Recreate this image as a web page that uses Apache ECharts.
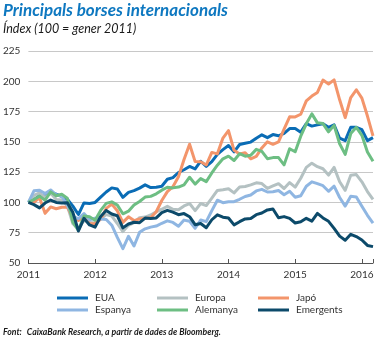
<!DOCTYPE html>
<html>
<head>
<meta charset="utf-8">
<script src="https://cdn.jsdelivr.net/npm/echarts@6/dist/echarts.min.js"></script>
<style>
  html, body { margin: 0; padding: 0; background: #ffffff; }
  #chart { width: 384px; height: 338px; }
</style>
</head>
<body>
<div id="chart"></div>
<script>
// Monthly index levels (100 = January 2011), first point = start of January 2011
const firstYear = 2011;
const seriesNames = ['EUA', 'Europa', 'Japó', 'Espanya', 'Alemanya', 'Emergents'];
const yearTicks = [2011, 2012, 2013, 2014, 2015, 2016];

const eua = [100,102.3,105.5,105.4,108.4,106.9,105,102.7,96.9,90,99.6,99.1,100,
  104.3,108.6,112,111.1,104.2,108.3,109.7,111.8,114.5,112.3,112.6,113.4,
  119.1,120.5,124.7,127,129.7,127.7,134,129.8,133.7,139.7,143.6,147,
  141.8,147.8,148.8,149.8,153,155.8,153.5,156,155,157,161,161,
  158,165,163,164,165,162,164,153,151,162,162,160,
  151,153.5];

const europa = [100,105.8,107.9,104.2,107.8,102.5,102,97.4,82.4,78.1,85.4,83.4,83,
  86.5,89.9,88.7,82.6,75.9,81.1,83.3,87.4,87.9,89.6,92.2,94.4,
  96.8,94.3,94,97.1,99.1,93.2,99.1,97.4,103.6,109.9,110.5,111.3,
  107.9,112.8,113.2,114.5,116.2,115.6,111.6,113.6,115.5,111.5,116.4,112.6,
  120,128.9,132.4,129.5,127.8,122.6,128.9,117.1,110,122.4,123,117,
  109,102.5];

const japo = [100,100.1,103.9,91,96.3,94.8,96,96.1,87.5,85.1,87.9,82.5,82.7,
  86.1,95.1,98.6,93.1,83.5,88.1,85,86.4,86.7,87.3,92.3,101.6,
  108.9,113,121.2,135.5,148,133.7,133.6,130.9,141.3,140.1,153.1,159.3,
  143,140,141,136,138,145,150,148,150,160.5,170.7,170.6,
  172.8,183.8,187.8,190.8,201,197.8,201.2,184.7,170,186.6,193,186.1,
  171.3,155];

const espanya = [100,109.6,110.1,107.3,110.3,106.3,105.1,97.7,88.4,86.7,90.8,85.7,86.9,
  86.3,85.9,81.2,71.1,61.8,72,64,75.3,78.2,79.6,80.5,82.8,
  84.8,83.5,80.3,85.4,84.4,78.7,85.5,84.1,93.2,101.8,99.8,100.6,
  100.6,102.6,104.9,106.1,109.5,110.8,108.6,108.8,109.8,106.3,109.2,104.3,
  105.5,113.4,117,115.5,113.8,109.2,113.4,104.1,97,105.1,104.5,96.8,
  89.4,83];

const alemanya = [100,102.4,105.2,101.8,108.7,105.5,106.7,103.5,83.7,77,88.8,88.1,85.3,
  93.4,99.2,100.5,97.8,90.6,92.8,97.9,100.8,104.4,105,107.1,110.1,
  112.5,112,112.7,114.5,120.8,115.1,119.7,117.2,124.3,130.7,136,138.2,
  134.6,140.2,138.2,138.9,143.8,142.2,136.1,137,137,131,144.3,141.8,
  154.7,164.9,173.1,165.7,165.1,158.3,163.6,148.4,139.7,156.9,162,155.4,
  141.7,134];

const emergents = [100,98.2,95.5,99.5,102,100,99.5,99.7,91.8,76.4,86.9,81.4,79.6,
  88.4,93.4,90.4,89,79,82.2,83.6,83.3,87.1,86.8,87.2,91.6,
  93.5,92,89.9,90.8,88.2,81.6,82.6,79.1,85.7,89.8,87.8,87.1,
  81.5,84.1,86.4,86.7,89.9,91.3,93.8,94.6,87.3,88.3,86.8,83,
  84,86.9,84.6,90.9,87.2,84.4,78.6,72.2,68.8,73.7,71.8,69,
  64.5,63.5];

const colors = ['#0a6cb5', '#b4c1c2', '#f3956b', '#8fb6e2', '#6dbe83', '#0c4a6a'];
const values = [eua, europa, japo, espanya, alemanya, emergents];

// month index -> decimal year
const toPairs = arr => arr.map((v, i) => [firstYear + i / 12, v]);
const lastX = firstYear + (eua.length - 1) / 12;

const FONT = 'Lato';

const legendSlots = [
  { left: 57, top: 292 }, { left: 157, top: 292 }, { left: 258, top: 292 },
  { left: 57, top: 304 }, { left: 157, top: 304 }, { left: 258, top: 304 }
];

const chart = echarts.init(document.getElementById('chart'), null, { renderer: 'canvas' });
chart.setOption({
  animation: false,
  backgroundColor: '#ffffff',
  color: colors,
  title: [
    {
      text: 'Principals borses internacionals',
      left: 3, top: 1, padding: 0,
      textStyle: { fontFamily: FONT, fontSize: 17, fontWeight: 'bold', fontStyle: 'italic', color: '#0e78c0', lineHeight: 20 }
    },
    {
      text: 'Índex (100 = gener 2011)',
      left: 3, top: 21, padding: 0,
      textStyle: { fontFamily: FONT, fontSize: 12.5, fontWeight: 'normal', fontStyle: 'italic', color: '#1a1a1a', lineHeight: 16 }
    },
    {
      text: '{b|Font:} {i|CaixaBank Research, a partir de dades de Bloomberg.}',
      left: 3, top: 323, padding: 0,
      textStyle: {
        rich: {
          b: { fontFamily: FONT, fontSize: 8.7, fontWeight: 'bold', fontStyle: 'italic', color: '#1a1a1a', lineHeight: 12 },
          i: { fontFamily: FONT, fontSize: 8.7, fontStyle: 'italic', color: '#1a1a1a', lineHeight: 12 }
        }
      }
    }
  ],
  legend: seriesNames.map((n, i) => ({
    data: [n],
    left: legendSlots[i].left,
    top: legendSlots[i].top,
    icon: 'rect',
    itemWidth: 31,
    itemHeight: 3,
    padding: 0,
    selectedMode: false,
    textStyle: { fontFamily: FONT, fontSize: 10, color: '#333333', lineHeight: 12, padding: [0, 0, 0, 2] }
  })),
  grid: { left: 27, right: 11, top: 51, bottom: 75, containLabel: false },
  xAxis: {
    type: 'value',
    min: firstYear,
    max: lastX,
    interval: 1,
    axisLine: { show: true, lineStyle: { color: '#555555', width: 1 } },
    axisTick: { show: true, inside: true, length: 4, lineStyle: { color: '#555555' } },
    axisLabel: {
      fontFamily: FONT, fontSize: 10, color: '#333333', margin: 7,
      formatter: v => (yearTicks.includes(Math.round(v * 1000) / 1000) ? String(v) : '')
    },
    splitLine: { show: false }
  },
  yAxis: {
    type: 'value',
    min: 50, max: 225, interval: 25,
    axisLine: { show: false },
    axisTick: { show: false },
    axisLabel: { fontFamily: FONT, fontSize: 10, color: '#333333', margin: 8 },
    splitLine: { show: true, lineStyle: { color: '#c8c8c8', width: 1 } }
  },
  series: seriesNames.map((n, i) => ({
    name: n,
    type: 'line',
    data: toPairs(values[i]),
    showSymbol: false,
    symbol: 'none',
    lineStyle: { width: 3, color: colors[i], join: 'round' },
    itemStyle: { color: colors[i] },
    z: 2 + i
  }))
});
</script>
</body>
</html>
